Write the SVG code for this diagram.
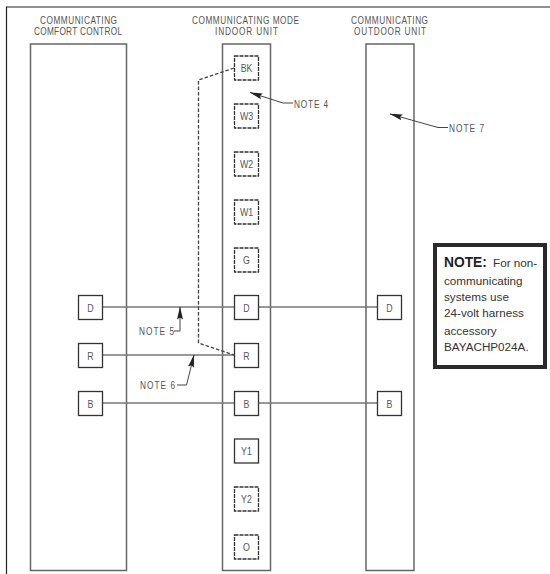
<svg xmlns="http://www.w3.org/2000/svg" width="550" height="574" viewBox="0 0 550 574">
<defs>
<marker id="arrow" markerUnits="userSpaceOnUse" markerWidth="13" markerHeight="7" refX="12.5" refY="3.5" orient="auto"><path d="M0 0.5L13 3.5L0 6.5L2 3.5Z" fill="#222"/></marker>
</defs>
<style>
.frame{fill:none;stroke:#222;stroke-width:1.2}
.unit{fill:none;stroke:#666;stroke-width:1.5}
.term{fill:#fff;stroke:#333;stroke-width:1.3}
.dash{stroke-dasharray:4 1}
.wire{fill:none;stroke:#777;stroke-width:1.3}
.ctrl{fill:none;stroke:#444;stroke-width:1.3;stroke-dasharray:3.5 2}
.lead{fill:none;stroke:#444;stroke-width:1;marker-end:url(#arrow)}
text{font-family:"Liberation Sans",Arial,sans-serif}
.lbl{font-size:11px;fill:#555;text-anchor:middle}
.hdr,.nt{font-size:11px;fill:#555}
.box{font-size:11.7px;fill:#333}
.boxb{font-size:13.8px;font-weight:bold;fill:#222}
</style>
<rect width="550" height="574" fill="#fff"/>
<path class="frame" d="M550 7H6.5V574"/>
<g id="comfort-control">
<rect class="unit" x="30.5" y="44" width="96" height="526.5"/>
<text class="hdr" transform="translate(40 24) scale(.75 1)" textLength="102.7">COMMUNICATING</text>
<text class="hdr" transform="translate(34 35) scale(.75 1)" textLength="117.3">COMFORT CONTROL</text>
</g>
<g id="indoor-unit">
<rect class="unit" x="222.5" y="44" width="48" height="526.5"/>
<text class="hdr" transform="translate(192 24) scale(.75 1)" textLength="142.7">COMMUNICATING MODE</text>
<text class="hdr" transform="translate(215 35) scale(.75 1)" textLength="84">INDOOR UNIT</text>
</g>
<g id="outdoor-unit">
<rect class="unit" x="366" y="44" width="48" height="526.5"/>
<text class="hdr" transform="translate(351 24) scale(.75 1)" textLength="102.7">COMMUNICATING</text>
<text class="hdr" transform="translate(354 35) scale(.75 1)" textLength="96">OUTDOOR UNIT</text>
</g>
<g id="connectors">
<path class="wire" d="M103 307H378M103 355H234M103 403H378"/>
<path class="ctrl" d="M234 68L198.5 80V343L234 355"/>
<path class="lead" d="M293 103H283L250 92.5"/>
<path class="lead" d="M448 127.5H438L390 114"/>
<path class="lead" d="M174 331H180V307"/>
<path class="lead" d="M177 385H186.5L194 355"/>
</g>
<g id="term-bk"><rect class="term dash" x="234.5" y="56" width="24" height="24"/><text class="lbl" transform="translate(246.5 72) scale(.8 1)">BK</text></g>
<g id="term-w3"><rect class="term dash" x="234.5" y="104" width="24" height="24"/><text class="lbl" transform="translate(246.5 120) scale(.8 1)">W3</text></g>
<g id="term-w2"><rect class="term dash" x="234.5" y="152" width="24" height="24"/><text class="lbl" transform="translate(246.5 168) scale(.8 1)">W2</text></g>
<g id="term-w1"><rect class="term dash" x="234.5" y="200" width="24" height="24"/><text class="lbl" transform="translate(246.5 216) scale(.8 1)">W1</text></g>
<g id="term-g"><rect class="term dash" x="234.5" y="248" width="24" height="24"/><text class="lbl" transform="translate(246.5 264) scale(.8 1)">G</text></g>
<g id="term-d"><rect class="term" x="234.5" y="295.5" width="24" height="24"/><text class="lbl" transform="translate(246.5 311.500) scale(.8 1)">D</text></g>
<g id="term-r"><rect class="term" x="234.5" y="343.5" width="24" height="24"/><text class="lbl" transform="translate(246.5 359.500) scale(.8 1)">R</text></g>
<g id="term-b"><rect class="term" x="234.5" y="391.5" width="24" height="24"/><text class="lbl" transform="translate(246.5 407.500) scale(.8 1)">B</text></g>
<g id="term-y1"><rect class="term" x="234.5" y="439" width="24" height="24"/><text class="lbl" transform="translate(246.5 455) scale(.8 1)">Y1</text></g>
<g id="term-y2"><rect class="term dash" x="234.5" y="487" width="24" height="24"/><text class="lbl" transform="translate(246.5 503) scale(.8 1)">Y2</text></g>
<g id="term-o"><rect class="term dash" x="234.5" y="535" width="24" height="24"/><text class="lbl" transform="translate(246.5 551) scale(.8 1)">O</text></g>
<g id="cc-d"><rect class="term" x="78.5" y="295.5" width="24" height="24"/><text class="lbl" transform="translate(90.5 311.500) scale(.8 1)">D</text></g>
<g id="cc-r"><rect class="term" x="78.5" y="343.5" width="24" height="24"/><text class="lbl" transform="translate(90.5 359.500) scale(.8 1)">R</text></g>
<g id="cc-b"><rect class="term" x="78.5" y="391.5" width="24" height="24"/><text class="lbl" transform="translate(90.5 407.500) scale(.8 1)">B</text></g>
<g id="od-d"><rect class="term" x="377.5" y="295.5" width="24" height="24"/><text class="lbl" transform="translate(389.5 311.500) scale(.8 1)">D</text></g>
<g id="od-b"><rect class="term" x="377.5" y="391.5" width="24" height="24"/><text class="lbl" transform="translate(389.5 407.500) scale(.8 1)">B</text></g>
<g id="notes">
<text class="nt" transform="translate(294 108) scale(.75 1)" textLength="45.3">NOTE 4</text>
<text class="nt" transform="translate(449 132) scale(.75 1)" textLength="46.7">NOTE 7</text>
<text class="nt" transform="translate(139 335) scale(.75 1)" textLength="46.7">NOTE 5</text>
<text class="nt" transform="translate(140 389) scale(.75 1)" textLength="46.7">NOTE 6</text>
</g>
<g id="note-box">
<rect x="435" y="245" width="110" height="122" fill="#fff" stroke="#2a2a2a" stroke-width="4"/>
<text class="box" x="444" y="267"><tspan class="boxb">NOTE:</tspan></text>
<text class="box" x="493" y="267">For non-</text>
<text class="box" x="444" y="285">communicating</text>
<text class="box" x="444" y="301">systems use</text>
<text class="box" x="444" y="317">24-volt harness</text>
<text class="box" x="444" y="335">accessory</text>
<text class="box" x="444" y="351">BAYACHP024A.</text>
</g>
</svg>
